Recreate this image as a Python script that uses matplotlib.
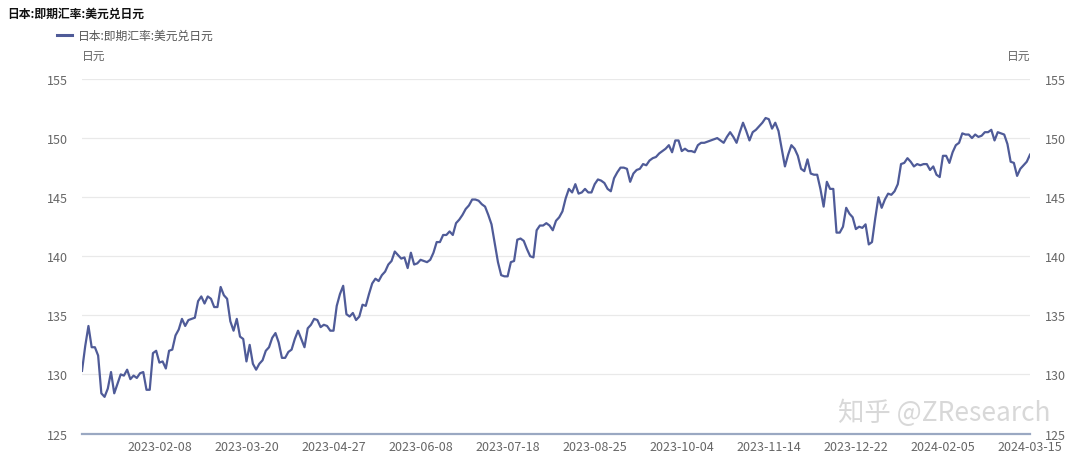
import numpy as np
import pandas as pd
import matplotlib.pyplot as plt

plt.rcParams['font.family'] = ['Noto Sans CJK SC', 'DejaVu Sans']

# ---- data ----
title = '日本:即期汇率:美元兑日元'
unit = '日元'
start_date = '2023-01-04'
end_date = '2024-03-15'

# Tokyo market holidays in the range (weekdays only)
jp_holidays = ['2023-01-09', '2023-02-23', '2023-03-21', '2023-05-03', '2023-05-04',
               '2023-05-05', '2023-07-17', '2023-08-11', '2023-09-18', '2023-10-09',
               '2023-11-03', '2023-11-23', '2024-01-01', '2024-01-02', '2024-01-03',
               '2024-01-08', '2024-02-12', '2024-02-23']

usdjpy = [
    130.3, 132.4, 134.1, 132.3, 132.3, 131.6, 128.4, 128.1, 128.8, 130.2,
    128.4, 129.2, 130.0, 129.9, 130.4, 129.6, 129.9, 129.7, 130.1, 130.2,
    128.7, 128.7, 131.8, 132.0, 131.0, 131.1, 130.5, 132.0, 132.1, 133.3,
    133.8, 134.7, 134.1, 134.6, 134.7, 134.8, 136.2, 136.6, 136.0, 136.6,
    136.4, 135.7, 135.7, 137.4, 136.7, 136.4, 134.5, 133.7, 134.7, 133.2,
    133.0, 131.1, 132.5, 130.9, 130.4, 130.9, 131.2, 132.0, 132.3, 133.1,
    133.5, 132.7, 131.4, 131.4, 131.9, 132.1, 133.0, 133.7, 133.0, 132.3,
    133.9, 134.2, 134.7, 134.6, 134.0, 134.2, 134.1, 133.7, 133.7, 135.8,
    136.8, 137.5, 135.1, 134.9, 135.2, 134.6, 134.9, 135.9, 135.8, 136.8,
    137.7, 138.1, 137.9, 138.4, 138.7, 139.3, 139.6, 140.4, 140.1, 139.8,
    139.9, 139.0, 140.3, 139.3, 139.4, 139.7, 139.6, 139.5, 139.7, 140.3,
    141.2, 141.2, 141.8, 141.8, 142.1, 141.8, 142.8, 143.1, 143.5, 144.0,
    144.3, 144.8, 144.8, 144.7, 144.4, 144.2, 143.5, 142.7, 141.1, 139.5,
    138.4, 138.3, 138.3, 139.5, 139.6, 141.4, 141.5, 141.3, 140.6, 140.0,
    139.9, 142.2, 142.6, 142.6, 142.8, 142.6, 142.2, 143.0, 143.3, 143.8,
    144.9, 145.7, 145.4, 146.1, 145.3, 145.4, 145.7, 145.4, 145.4, 146.1,
    146.5, 146.4, 146.2, 145.7, 145.5, 146.6, 147.1, 147.5, 147.5, 147.4,
    146.3, 147.0, 147.3, 147.4, 147.8, 147.7, 148.1, 148.3, 148.4, 148.7,
    148.9, 149.1, 149.4, 148.8, 149.8, 149.8, 148.9, 149.1, 148.9, 148.9,
    148.8, 149.4, 149.6, 149.6, 149.7, 149.8, 149.9, 150.0, 149.8, 149.6,
    150.1, 150.5, 150.1, 149.6, 150.5, 151.3, 150.6, 149.8, 150.5, 150.7,
    151.0, 151.3, 151.7, 151.6, 150.8, 151.3, 150.6, 149.1, 147.6, 148.6,
    149.4, 149.1, 148.5, 147.4, 147.2, 148.2, 147.0, 146.9, 146.9, 145.7,
    144.2, 146.3, 145.7, 145.7, 142.0, 142.0, 142.5, 144.1, 143.6, 143.3,
    142.3, 142.5, 142.4, 142.7, 141.0, 141.2, 143.2, 145.0, 144.1, 144.8,
    145.3, 145.2, 145.5, 146.1, 147.8, 147.9, 148.3, 148.0, 147.6, 147.8,
    147.7, 147.8, 147.8, 147.3, 147.6, 146.9, 146.7, 148.5, 148.5, 147.9,
    148.8, 149.4, 149.6, 150.4, 150.3, 150.3, 150.0, 150.3, 150.1, 150.2,
    150.5, 150.5, 150.7, 149.8, 150.5, 150.4, 150.3, 149.5, 148.0, 147.9,
    146.8, 147.4, 147.7, 148.0, 148.6,
]

x_labels = ['2023-02-08', '2023-03-20', '2023-04-27', '2023-06-08', '2023-07-18',
            '2023-08-25', '2023-10-04', '2023-11-14', '2023-12-22', '2024-02-05',
            '2024-03-15']
y_ticks = [125, 130, 135, 140, 145, 150, 155]

# ---- build the trading-day category axis ----
dates = pd.bdate_range(start_date, end_date, freq='C', holidays=jp_holidays)
date_str = [d.strftime('%Y-%m-%d') for d in dates]
n = min(len(date_str), len(usdjpy))
if len(date_str) != len(usdjpy):
    print(f"warning: {len(date_str)} dates vs {len(usdjpy)} values")
date_str = date_str[:n]
values = np.array(usdjpy[:n])
xs = np.arange(n)
tick_pos = [date_str.index(lbl) for lbl in x_labels if lbl in date_str]
tick_lbl = [lbl for lbl in x_labels if lbl in date_str]

# ---- figure ----
W, H = 1080, 460
fig = plt.figure(figsize=(W / 100, H / 100), dpi=100)
left, right, top, bottom = 82, 1030, 80, 434.5
ax = fig.add_axes([left / W, 1 - bottom / H, (right - left) / W, (bottom - top) / H])

line_color = '#4f5b98'
tick_color = '#666666'

ax.plot(xs, values, color=line_color, linewidth=1.6, zorder=3)
ax.set_xlim(0, n - 1)
ax.set_ylim(y_ticks[0], y_ticks[-1])
ax.set_yticks(y_ticks)
ax.set_xticks(tick_pos)
ax.set_xticklabels(tick_lbl)
ax.grid(axis='y', color='#e9e9e9', linewidth=0.9, zorder=0)
for s in ['top', 'left', 'right']:
    ax.spines[s].set_visible(False)
ax.spines['bottom'].set_color('#9aa8c2')
ax.spines['bottom'].set_linewidth(1.6)
ax.tick_params(axis='both', length=0, labelsize=9, colors=tick_color)
ax.tick_params(axis='x', pad=5)
ax.tick_params(axis='y', pad=10)

# right axis, same scale
ax2 = ax.twinx()
ax2.set_ylim(y_ticks[0], y_ticks[-1])
ax2.set_yticks(y_ticks)
for s in ['top', 'left', 'right', 'bottom']:
    ax2.spines[s].set_visible(False)
ax2.tick_params(axis='y', length=0, labelsize=9, colors=tick_color, pad=11)

# title, legend, units
fig.text(7 / W, 1 - 14 / H, title, fontsize=8.5, fontweight='bold', color='#111111',
         ha='left', va='center')
fig.add_artist(plt.Line2D([57 / W, 72 / W], [1 - 36 / H, 1 - 36 / H],
                          color=line_color, linewidth=2.2))
fig.text(78 / W, 1 - 36 / H, title, fontsize=8.5, color='#555555', ha='left', va='center')
fig.text(82 / W, 1 - 56 / H, unit, fontsize=8.5, color=tick_color, ha='left', va='center')
fig.text(1030 / W, 1 - 56 / H, unit, fontsize=8.5, color=tick_color, ha='right', va='center')

# watermark
fig.text(1050 / W, 1 - 413 / H, '知乎 @ZResearch', fontsize=19, color='#d4d4d4',
         alpha=0.9, ha='right', va='center', zorder=10)

fig.savefig('out.png', dpi=100)
